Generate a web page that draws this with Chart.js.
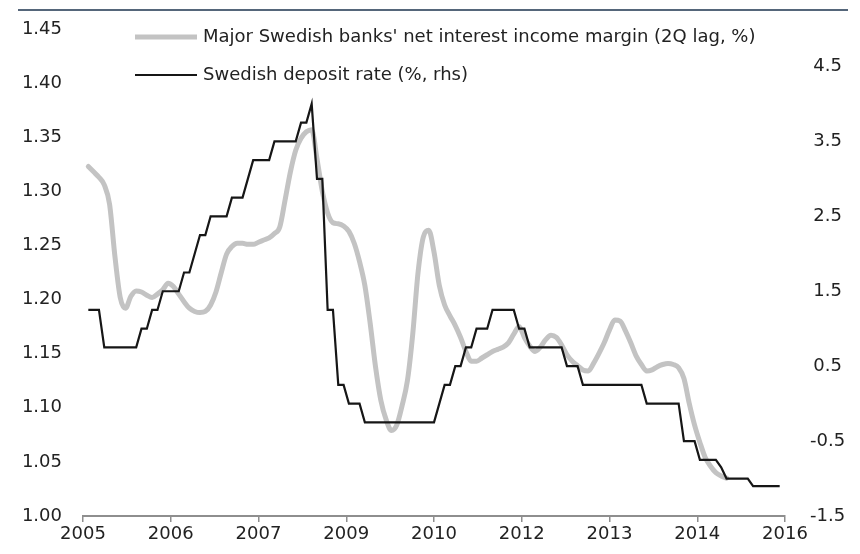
<!DOCTYPE html>
<html>
<head>
<meta charset="utf-8">
<title>Swedish banks: NII margin vs deposit rate</title>
<script src="https://cdn.jsdelivr.net/npm/chart.js@4/dist/chart.umd.min.js"></script>
<style>
  html, body { margin: 0; padding: 0; background: #fff; }
  .wrap { position: relative; width: 860px; height: 554px; }
  .rule { position: absolute; left: 18px; right: 12px; top: 9px; border-top: 2px solid #55667a; }
</style>
</head>
<body>
<div class="wrap">
  <div class="rule"></div>
  <canvas id="nimChart"></canvas>
</div>
<script>
// x axis runs in months from Jan 2005; labels sit on evenly spaced ticks
const xTickLabels = ['2005', '2006', '2007', '2009', '2010', '2012', '2013', '2014', '2016'];
const monthSpan = 132;

const leftTicks = [1.00, 1.05, 1.10, 1.15, 1.20, 1.25, 1.30, 1.35, 1.40, 1.45];
const rightTicks = [-1.5, -0.5, 0.5, 1.5, 2.5, 3.5, 4.5];

// net interest income margin, %, monthly from month 1
const marginStart = 1;
const niiMargin = [
  1.323, 1.318, 1.313, 1.306, 1.288, 1.240, 1.202, 1.192, 1.203, 1.208, 1.207, 1.204,
  1.202, 1.205, 1.209, 1.215, 1.212, 1.205, 1.198, 1.192, 1.189, 1.188, 1.189, 1.195,
  1.207, 1.225, 1.242, 1.249, 1.252, 1.252, 1.251, 1.251, 1.253, 1.255, 1.257, 1.261,
  1.267, 1.292, 1.318, 1.338, 1.349, 1.355, 1.357, 1.330, 1.300, 1.280, 1.271, 1.270,
  1.268, 1.263, 1.252, 1.235, 1.213, 1.178, 1.138, 1.107, 1.089, 1.079, 1.084, 1.102,
  1.125, 1.168, 1.225, 1.258, 1.264, 1.244, 1.213, 1.195, 1.185, 1.176, 1.165, 1.152,
  1.143, 1.143, 1.146, 1.149, 1.152, 1.154, 1.156, 1.160, 1.168, 1.175, 1.165, 1.157,
  1.152, 1.156, 1.163, 1.167, 1.165, 1.158, 1.149, 1.143, 1.139, 1.135, 1.134, 1.141,
  1.150, 1.160, 1.172, 1.181, 1.180, 1.171, 1.160, 1.148, 1.140, 1.134, 1.135, 1.138,
  1.140, 1.141, 1.140, 1.137, 1.127, 1.104, 1.084, 1.068, 1.054, 1.046, 1.040, 1.037,
  1.035
];

// deposit rate, %, monthly from month 1
const rateStart = 1;
const depositRate = [
  1.25, 1.25, 1.25, 0.75, 0.75, 0.75, 0.75, 0.75, 0.75, 0.75, 1.00, 1.00,
  1.25, 1.25, 1.50, 1.50, 1.50, 1.50, 1.75, 1.75, 2.00, 2.25, 2.25, 2.50,
  2.50, 2.50, 2.50, 2.75, 2.75, 2.75, 3.00, 3.25, 3.25, 3.25, 3.25, 3.50,
  3.50, 3.50, 3.50, 3.50, 3.75, 3.75, 4.00, 3.00, 3.00, 1.25, 1.25, 0.25,
  0.25, 0.00, 0.00, 0.00, -0.25, -0.25, -0.25, -0.25, -0.25, -0.25, -0.25, -0.25,
  -0.25, -0.25, -0.25, -0.25, -0.25, -0.25, 0.00, 0.25, 0.25, 0.50, 0.50, 0.75,
  0.75, 1.00, 1.00, 1.00, 1.25, 1.25, 1.25, 1.25, 1.25, 1.00, 1.00, 0.75,
  0.75, 0.75, 0.75, 0.75, 0.75, 0.75, 0.50, 0.50, 0.50, 0.25, 0.25, 0.25,
  0.25, 0.25, 0.25, 0.25, 0.25, 0.25, 0.25, 0.25, 0.25, 0.00, 0.00, 0.00,
  0.00, 0.00, 0.00, 0.00, -0.50, -0.50, -0.50, -0.75, -0.75, -0.75, -0.75, -0.85,
  -1.00, -1.00, -1.00, -1.00, -1.00, -1.10, -1.10, -1.10, -1.10, -1.10, -1.10
];

const toPoints = (values, start) => values.map((v, i) => ({ x: start + i, y: v }));

const FONT = { family: "'DejaVu Sans', sans-serif", size: 18 };
const TEXT = '#222';

// two-row legend drawn inside the plot, in the upper left
const insideLegend = {
  id: 'insideLegend',
  afterDatasetsDraw(chart, args, opts) {
    const { ctx, chartArea } = chart;
    ctx.save();
    ctx.font = `${FONT.size}px ${FONT.family}`;
    ctx.fillStyle = TEXT;
    ctx.textBaseline = 'middle';
    opts.order.forEach((dsIndex, row) => {
      const ds = chart.data.datasets[dsIndex];
      const x = chartArea.left + opts.left;
      const y = chartArea.top + opts.top + row * opts.rowGap;
      ctx.strokeStyle = ds.borderColor;
      ctx.lineWidth = ds.borderWidth;
      ctx.beginPath();
      ctx.moveTo(x, y);
      ctx.lineTo(x + opts.lineLength, y);
      ctx.stroke();
      ctx.fillText(ds.label, x + opts.lineLength + opts.gap, y);
    });
    ctx.restore();
  }
};

new Chart(document.getElementById('nimChart'), {
  type: 'line',
  data: {
    datasets: [
      {
        label: "Major Swedish banks' net interest income margin (2Q lag, %)",
        data: toPoints(niiMargin, marginStart),
        yAxisID: 'yL',
        borderColor: '#c3c3c3',
        borderWidth: 5,
        pointRadius: 0,
        cubicInterpolationMode: 'monotone',
        borderCapStyle: 'round',
        borderJoinStyle: 'round',
        order: 1
      },
      {
        label: 'Swedish deposit rate (%, rhs)',
        data: toPoints(depositRate, rateStart),
        yAxisID: 'yR',
        borderColor: '#161616',
        borderWidth: 2.2,
        pointRadius: 0,
        tension: 0,
        order: 0
      }
    ]
  },
  options: {
    responsive: true,
    maintainAspectRatio: false,
    animation: false,
    layout: { padding: { top: 29, left: 0, right: 0, bottom: 0 } },
    plugins: {
      legend: { display: false },
      tooltip: { enabled: false },
      insideLegend: { order: [0, 1], left: 52, top: 8, rowGap: 38, lineLength: 62, gap: 6 }
    },
    scales: {
      x: {
        type: 'linear',
        min: 0,
        max: monthSpan,
        afterBuildTicks: s => {
          s.ticks = xTickLabels.map((_, i) => ({ value: i * monthSpan / (xTickLabels.length - 1) }));
        },
        afterFit: s => { s.height = 38; },
        ticks: {
          autoSkip: false,
          maxRotation: 0,
          padding: 2,
          font: FONT,
          color: TEXT,
          callback: (v, i) => xTickLabels[i]
        },
        grid: { display: true, drawOnChartArea: false, drawTicks: true, tickLength: 6, color: '#8e8e8e', lineWidth: 1.5 },
        border: { display: true, color: '#8e8e8e', width: 2 }
      },
      // the gap between labels and plot comes from hidden tick marks,
      // so it does not push the plot top down
      yL: {
        position: 'left',
        min: 1.0,
        max: 1.45,
        afterBuildTicks: s => { s.ticks = leftTicks.map(v => ({ value: v })); },
        afterFit: s => { s.width = 83; },
        ticks: { padding: 0, font: FONT, color: TEXT, callback: v => v.toFixed(2) },
        grid: { display: false, drawTicks: true, tickLength: 21 },
        border: { display: false }
      },
      yR: {
        position: 'right',
        min: -1.5,
        max: 5.0,
        afterBuildTicks: s => { s.ticks = rightTicks.map(v => ({ value: v })); },
        afterFit: s => { s.width = 75; },
        ticks: { padding: 0, crossAlign: 'center', font: FONT, color: TEXT, callback: v => v.toFixed(1) },
        grid: { display: false, drawTicks: true, tickLength: 25 },
        border: { display: false }
      }
    }
  },
  plugins: [insideLegend]
});
</script>
</body>
</html>
